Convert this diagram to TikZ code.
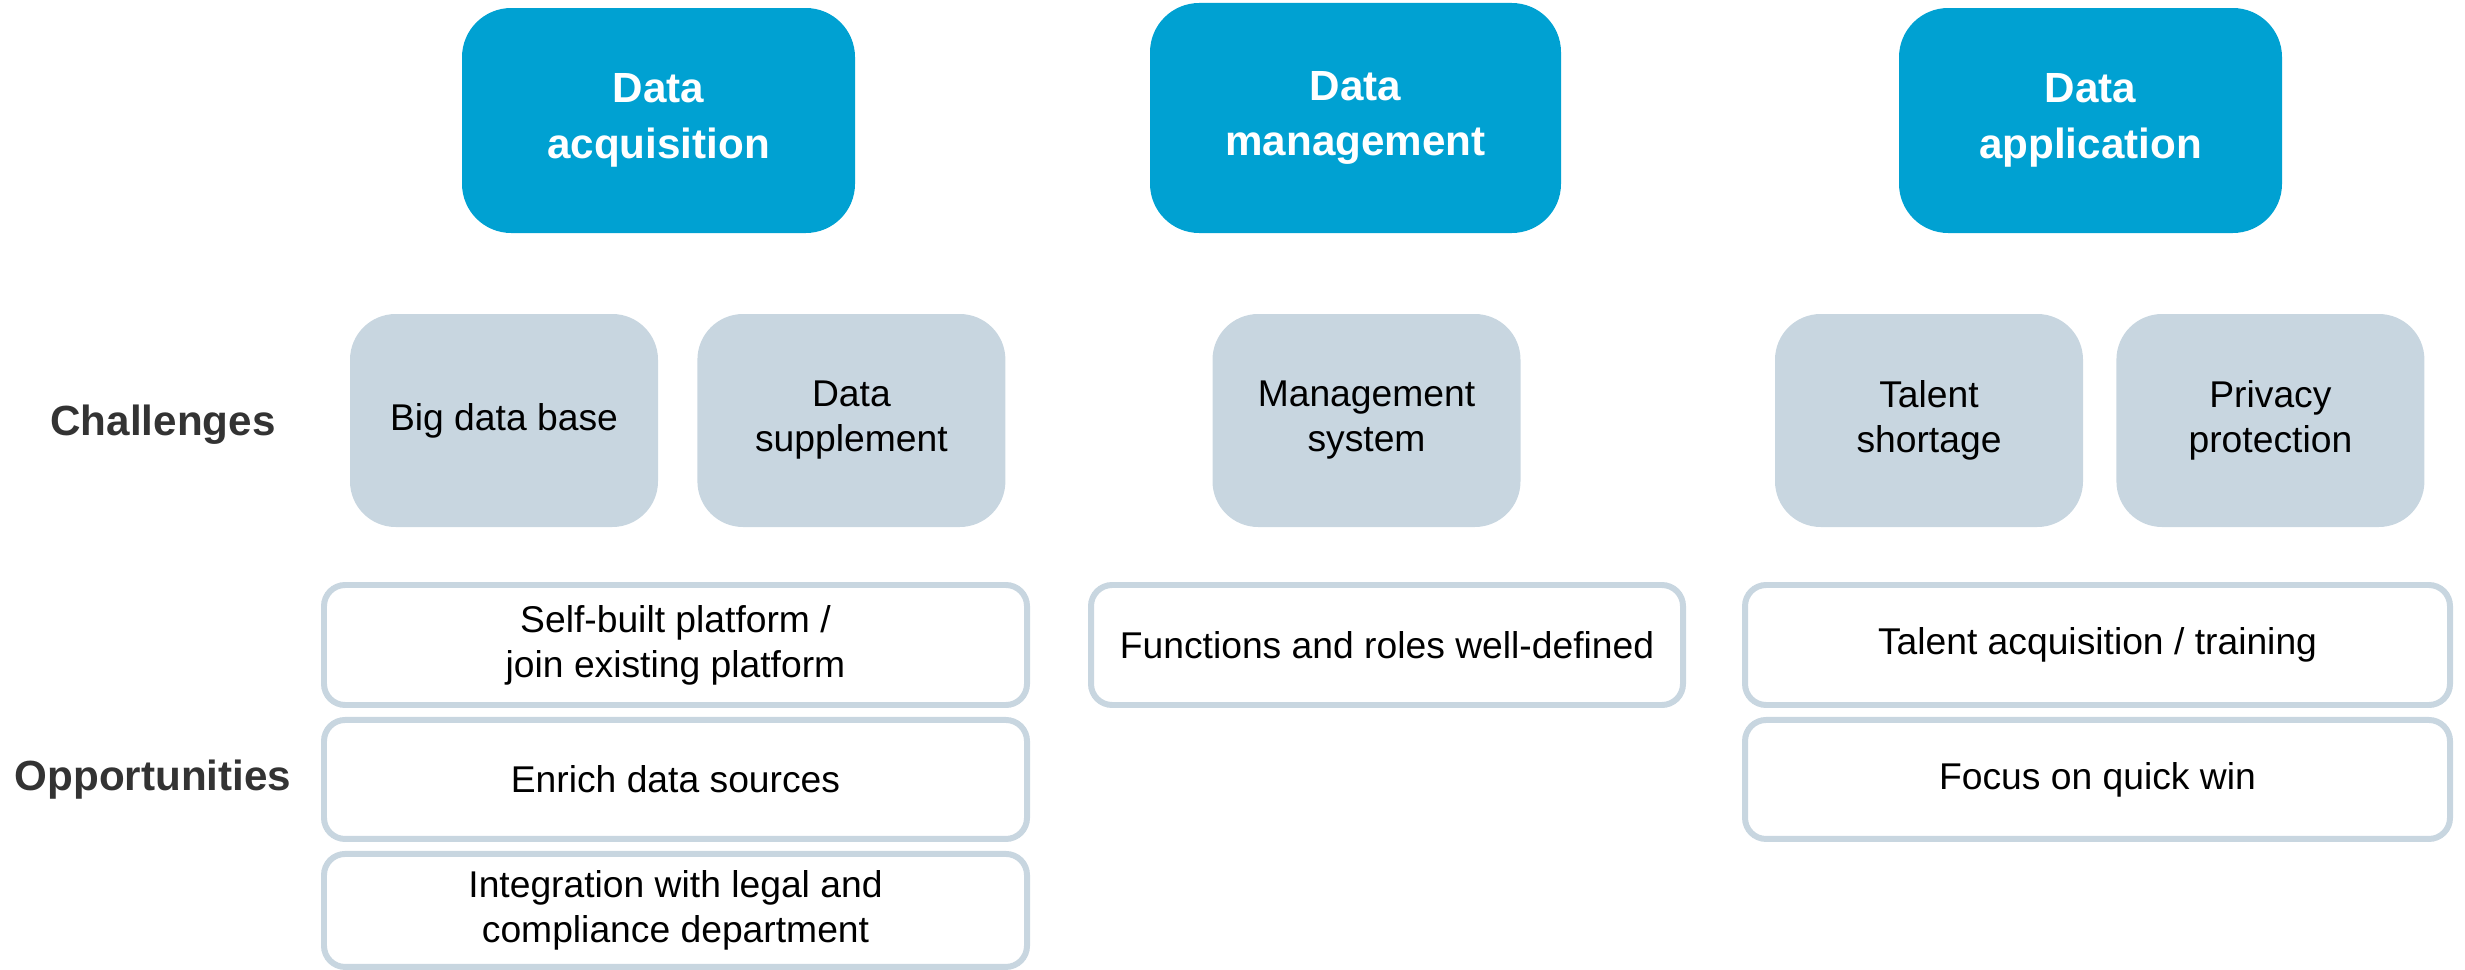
\documentclass[tikz,border=0pt]{standalone}
\usepackage{fontspec}
\setmainfont{Liberation Sans}
\usetikzlibrary{positioning}
\definecolor{headblue}{HTML}{00A1D2}
\definecolor{chalgray}{HTML}{C8D6E0}
\definecolor{labelgray}{HTML}{333333}
\tikzstyle{headbox}=[rectangle, rounded corners=14pt, fill=headblue, text=white,
                    inner sep=2pt, align=center,
                    font=\fontsize{12}{15.8}\selectfont\bfseries]
\tikzstyle{chalbox}=[rectangle, rounded corners=13pt, fill=chalgray,
                    minimum width=3.08cm, minimum height=2.13cm, inner sep=2pt,
                    align=center, font=\fontsize{10.6}{12.8}\selectfont]
\tikzstyle{oppbox}=[rectangle, rounded corners=6pt, draw=chalgray, line width=1.7pt,
                    fill=white, inner sep=2pt, align=center,
                    font=\fontsize{10.6}{12.8}\selectfont]
\tikzstyle{rowlabel}=[text=labelgray, font=\fontsize{12}{15}\selectfont\bfseries]

\begin{document}
\begin{tikzpicture}[node distance=0mm]
\useasboundingbox (0,0) rectangle (24.65,-9.70);

% headers
\node (ACQ) [headbox, minimum width=3.93cm, minimum height=2.25cm] at (6.585,-1.205)
 {Data\\acquisition};
\node (MGT) [headbox, minimum width=4.11cm, minimum height=2.30cm] at (13.555,-1.18)
 {Data\\management};
\node (APP) [headbox, minimum width=3.83cm, minimum height=2.25cm] at (20.905,-1.205)
 {Data\\application};

% challenges
\node (CHAL) [rowlabel] at (1.63,-4.25) {Challenges};
\node (BIG) [chalbox] at (5.04,-4.205) {Big data base};
\node (SUP) [chalbox, right=0.38cm of BIG] {Data\\supplement};
\node (MSYS) [chalbox] at (13.665,-4.205) {Management\\system};
\node (TAL) [chalbox] at (19.29,-4.205) {Talent\\shortage};
\node (PRIV) [chalbox, right=0.32cm of TAL] {Privacy\\protection};

% opportunities
\node (OPP) [rowlabel] at (1.53,-7.80) {Opportunities};
\node (OPPACQA) [oppbox, minimum width=7.03cm, minimum height=1.20cm] at (6.755,-6.45)
 {Self-built platform /\\join existing platform};
\node (OPPACQB) [oppbox, minimum width=7.03cm, minimum height=1.19cm, below=0.09cm of OPPACQA]
 {Enrich data sources};
\node (OPPACQC) [oppbox, minimum width=7.03cm, minimum height=1.13cm, below=0.09cm of OPPACQB]
 {Integration with legal and\\compliance department};
\node (OPPMGTA) [oppbox, minimum width=5.92cm, minimum height=1.20cm] at (13.87,-6.45)
 {Functions and roles well-defined};
\node (OPPAPPA) [oppbox, minimum width=7.05cm, minimum height=1.20cm] at (20.975,-6.45)
 {Talent acquisition / training};
\node (OPPAPPB) [oppbox, minimum width=7.05cm, minimum height=1.19cm, below=0.09cm of OPPAPPA]
 {Focus on quick win};

\end{tikzpicture}
\end{document}
